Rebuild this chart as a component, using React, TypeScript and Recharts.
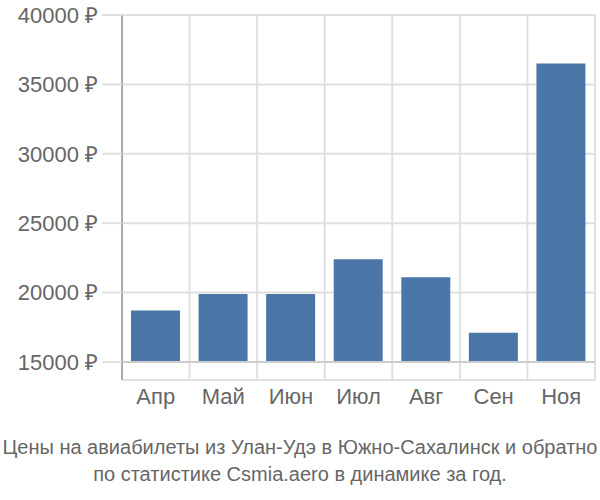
import { Bar, BarChart, CartesianGrid, ReferenceLine, XAxis, YAxis } from "recharts";

// Average ticket price per month.
const MONTHS = ["Апр", "Май", "Июн", "Июл", "Авг", "Сен", "Ноя"];
const PRICES = [18700, 19900, 19900, 22400, 21100, 17100, 36500];
const Y_TICKS = [15000, 20000, 25000, 30000, 35000, 40000];
const BASE = 15000; // bars rise from the lowest tick
const Y_FLOOR = 13700; // axis runs a little below the lowest tick
const GRID_TICKS = [0, 1, 2, 3, 4, 5, 6, 7];

const TITLE = [
  "Цены на авиабилеты из Улан-Удэ в Южно-Сахалинск и обратно",
  "по статистике Csmia.aero в динамике за год.",
];

const data = MONTHS.map((month, i) => ({ month, pos: i + 0.5, range: [BASE, PRICES[i]] }));

const FONT = "'Liberation Sans', Arial, sans-serif";

export default function App() {
  return (
    <div style={{ position: "absolute", left: 0, top: 0, width: 600, height: 500, background: "#fff", fontFamily: FONT }}>
      <BarChart width={600} height={420} data={data} margin={{ top: 15, right: 5, bottom: 10, left: 0 }}>
        <CartesianGrid xAxisId="grid" stroke="#e0e0e0" strokeWidth={2} />
        <XAxis
          dataKey="month"
          tick={{ fill: "#666", fontSize: 22, fontFamily: FONT }}
          tickLine={false}
          axisLine={false}
          tickSize={0}
          tickMargin={8}
          height={30}
        />
        <XAxis xAxisId="grid" type="number" dataKey="pos" domain={[0, 7]} ticks={GRID_TICKS} hide />
        <YAxis
          domain={[Y_FLOOR, 40000]}
          ticks={Y_TICKS}
          tickFormatter={(v) => `${v} ₽`}
          tick={{ fill: "#666", fontSize: 22, fontFamily: FONT }}
          tickLine={{ stroke: "#e0e0e0", strokeWidth: 2 }}
          tickSize={20}
          tickMargin={4}
          axisLine={{ stroke: "#aaa", strokeWidth: 2 }}
          width={122}
        />
        <ReferenceLine y={BASE} stroke="#ccc" strokeWidth={2} />
        <Bar dataKey="range" fill="#4a76a8" barSize={49} isAnimationActive={false} />
      </BarChart>
      <div style={{ textAlign: "center", color: "#666", fontSize: 20, lineHeight: "27px", marginTop: 14 }}>
        {TITLE.map((t) => (
          <div key={t}>{t}</div>
        ))}
      </div>
    </div>
  );
}
